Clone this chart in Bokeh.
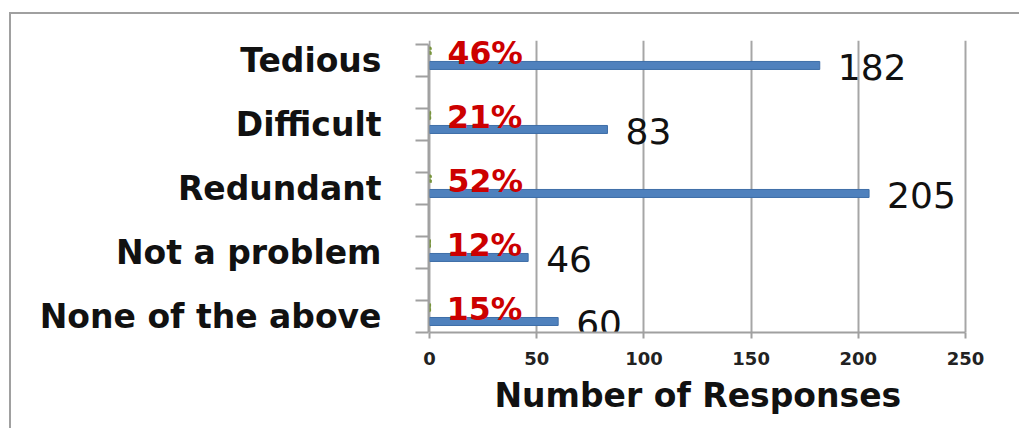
from bokeh.plotting import figure
from bokeh.models import Range1d, FixedTicker, ColumnDataSource, Title
from bokeh.core.properties import value
from bokeh.embed import file_html
from bokeh.resources import INLINE

categories = ["Tedious", "Difficult", "Redundant", "Not a problem", "None of the above"]
responses = [182, 83, 205, 46, 60]
shares = [0.46, 0.21, 0.52, 0.12, 0.15]
share_labels = ["46%", "21%", "52%", "12%", "15%"]
x_ticks = [0, 50, 100, 150, 200, 250]
x_title = "Number of Responses"

n = len(categories)
ypos = [n - 1 - i for i in range(n)]

FONT = "DejaVu Sans"

p = figure(width=1010, height=416, output_backend="svg", toolbar_location=None,
           x_range=Range1d(-0.47, 259.3), y_range=Range1d(-0.172, 4.39),
           min_border_left=417, min_border_right=36, min_border_top=26, min_border_bottom=98)
p.outline_line_color = None
p.background_fill_color = "white"
p.border_fill_color = "white"
p.styles = {"border-left": "2px solid #A0A0A0", "border-top": "2px solid #A0A0A0",
            "margin-left": "9px", "margin-top": "12px"}

# grid
p.xgrid.ticker = FixedTicker(ticks=x_ticks)
p.xgrid.grid_line_color = "#A6A6A6"
p.xgrid.grid_line_width = 2
p.ygrid.grid_line_color = None

# x axis
xa = p.xaxis[0]
xa.ticker = FixedTicker(ticks=x_ticks)
xa.bounds = (x_ticks[0], x_ticks[-1])
xa.axis_line_color = "#A0A0A0"
xa.axis_line_width = 2
xa.major_tick_line_color = "#A0A0A0"
xa.major_tick_line_width = 2
xa.major_tick_out = 6
xa.major_tick_in = 0
xa.minor_tick_line_color = None
xa.major_label_standoff = 13
xa.major_label_text_font = FONT
xa.major_label_text_font_style = "bold"
xa.major_label_text_font_size = "18px"
xa.major_label_text_color = "#222222"

# axis title, placed as a title below the axis so it can be centred on the axis span
p.add_layout(Title(text=x_title, align="left", offset=66, standoff=13,
                   text_font=FONT, text_font_style="bold", text_font_size="33px",
                   text_color="#111111"), "below")

# y axis with category labels
label_pos = [y + 0.08 for y in ypos]
boundary_ticks = [i * 0.5 - 0.17 for i in range(2 * n)]
ya = p.yaxis[0]
ya.ticker = FixedTicker(ticks=label_pos, minor_ticks=boundary_ticks)
ya.major_label_overrides = {lp: c for lp, c in zip(label_pos, categories)}
ya.bounds = (boundary_ticks[0], boundary_ticks[-1])
ya.axis_line_color = "#A0A0A0"
ya.axis_line_width = 2
ya.major_tick_out = 0
ya.major_tick_in = 0
ya.minor_tick_out = 13
ya.minor_tick_in = 0
ya.minor_tick_line_color = "#A0A0A0"
ya.minor_tick_line_width = 2
ya.major_label_standoff = 34
ya.major_label_text_font = FONT
ya.major_label_text_font_style = "bold"
ya.major_label_text_font_size = "33px"
ya.major_label_text_color = "#111111"

src = ColumnDataSource(dict(
    y=ypos,
    yg=[y + 0.22 for y in ypos],
    yt=[y + 0.20 for y in ypos],
    yv=[y - 0.03 for y in ypos],
    cnt=responses,
    cnt_txt=[str(v) for v in responses],
    share=shares,
    share_txt=share_labels,
))

# green (share) bars — tiny
p.hbar(y="yg", left=0, right="share", height=0.11, source=src,
       fill_color="#9BBB59", line_color="#77933C", line_width=2.5, line_dash="3 2")
# blue (count) bars
p.hbar(y="y", left=0, right="cnt", height=0.125, source=src,
       fill_color="#4F81BD", line_color="#3E6EA8", line_width=1)

p.text(x="share", y="yt", text="share_txt", source=src, x_offset=17,
       text_font=value(FONT), text_font_style="bold", text_font_size="31.5px",
       text_color="#CC0000", text_baseline="middle", text_align="left")
p.text(x="cnt", y="yv", text="cnt_txt", source=src, x_offset=18,
       text_font=value(FONT), text_font_size="36px",
       text_color="#111111", text_baseline="middle", text_align="left")

open("out.html", "w").write(file_html(p, INLINE))
